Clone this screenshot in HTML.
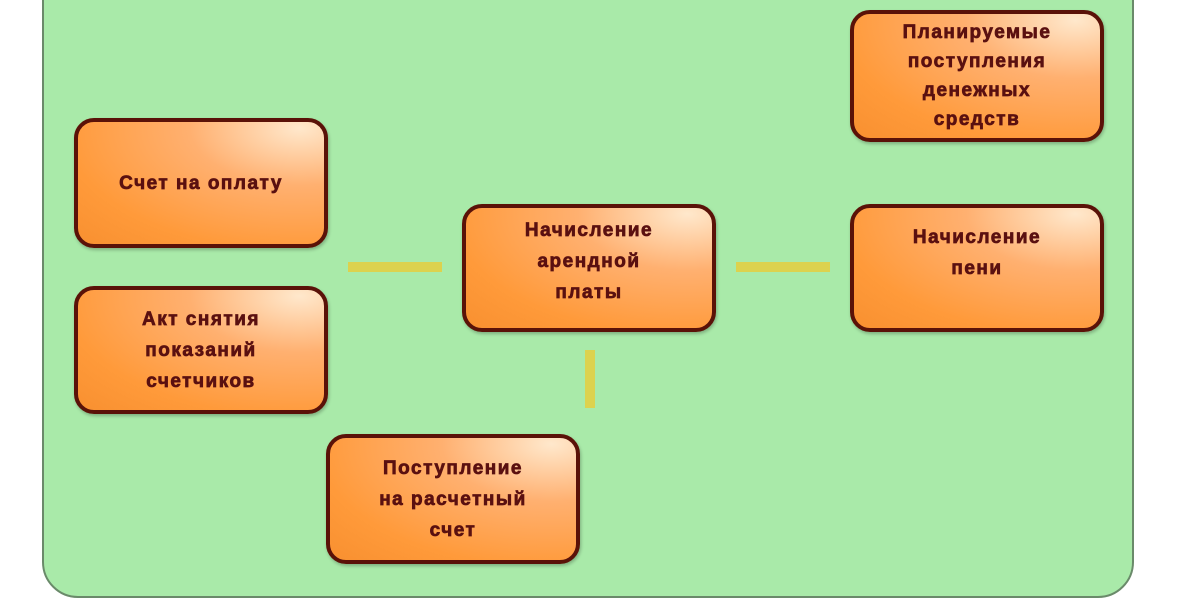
<!DOCTYPE html>
<html><head><meta charset="utf-8"><style>
body{margin:0;width:1188px;height:614px;background:#fff;position:relative;overflow:hidden;font-family:"Liberation Sans",sans-serif}
.panel{position:absolute;left:42px;top:-40px;width:1092px;height:638px;background:#a9eaa9;border:2px solid #6a8a6a;border-radius:36px;box-sizing:border-box}
.b{position:absolute;width:254px;height:128px;box-sizing:border-box;border:4px solid #5a1208;border-radius:20px;background:radial-gradient(ellipse at 90% 5%,#ffe8cc 0%,#ffb070 35%,#ff9a3a 75%,#f89030 100%);display:flex;align-items:center;justify-content:center;text-align:center;color:#5a1010;font-weight:bold;font-size:19px;line-height:31px;letter-spacing:1.5px;-webkit-text-stroke:0.7px #5a1010;box-shadow:1px 2px 3px rgba(0,0,0,.25)}
.l{position:absolute;background:#dcd24e}
</style></head><body>
<div class="panel"></div>
<div class="l" style="left:348px;top:262px;width:94px;height:10px"></div>
<div class="l" style="left:736px;top:262px;width:94px;height:10px"></div>
<div class="l" style="left:585px;top:350px;width:10px;height:58px"></div>
<div class="b" style="left:74px;top:118px;height:130px">Счет на оплату</div>
<div class="b" style="left:74px;top:286px">Акт снятия<br>показаний<br>счетчиков</div>
<div class="b" style="left:462px;top:204px;padding-bottom:14px">Начисление<br>арендной<br>платы</div>
<div class="b" style="left:850px;top:204px;padding-bottom:30px">Начисление<br>пени</div>
<div class="b" style="left:850px;top:10px;height:132px;line-height:29px">Планируемые<br>поступления<br>денежных<br>средств</div>
<div class="b" style="left:326px;top:434px;height:130px">Поступление<br>на расчетный<br>счет</div>
</body></html>
